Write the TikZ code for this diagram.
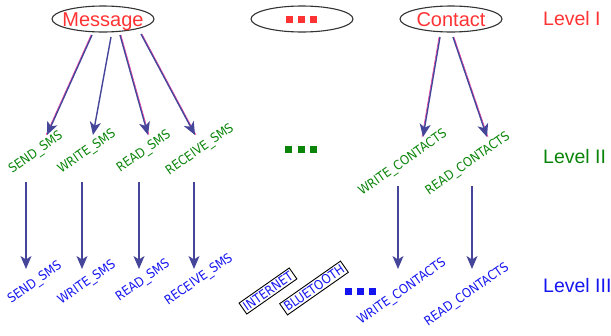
\documentclass[tikz,border=0pt]{standalone}
\usepackage{fontspec}
\setmainfont{Liberation Sans}
\newfontfamily\condfont{DejaVu Sans Condensed}
\usetikzlibrary{shapes.geometric,arrows.meta}
\definecolor{cred}{HTML}{FF3333}
\definecolor{cgreen}{HTML}{0A850A}
\definecolor{cblue}{HTML}{1515F0}
\definecolor{carrow}{HTML}{45459A}
\definecolor{cpink}{HTML}{FF3399}
\begin{document}
\begin{tikzpicture}[x=1pt,y=-1pt,
 oval/.style={draw=black!80, line width=1.1pt, ellipse, minimum width=102pt, minimum height=26pt,
   inner xsep=-5pt, inner ysep=0pt, text height=14.5pt, text depth=0pt,
   font=\fontsize{20}{20}\selectfont, text=cred},
 lvl/.style={font=\fontsize{19.5}{20}\selectfont, anchor=west, inner sep=0pt},
 perm/.style={font=\condfont\fontsize{12.8}{13}\selectfont, rotate=35, inner sep=0pt},
 boxed/.style={perm, draw=black, line width=0.9pt, inner sep=2pt},
 arr/.style={draw=carrow, line width=1.4pt, -{Stealth[length=13pt,width=11pt,inset=3.5pt]}},
 pinkl/.style={draw=cpink, line width=0.6pt},
 sq/.style={fill, minimum size=7pt, inner sep=0pt}
]
\useasboundingbox (0,0) rectangle (611,335);

% Level I
\node[oval] (msg) at (103,19) {Message};
\node[oval] (dots1) at (302,19) {};
\node[oval] (con) at (451,19) {Contact};
\node[sq, cred] (r1) at (289.5,19.5) {};
\node[sq, cred] (r2) at (301.5,19.5) {};
\node[sq, cred] (r3) at (313.5,19.5) {};
\node[lvl, text=cred] (l1) at (543,19) {Level I};

% Level II
\node[perm, text=cgreen] (s2) at (36,153) {SEND\_SMS};
\node[perm, text=cgreen] (w2) at (87,152) {WRITE\_SMS};
\node[perm, text=cgreen] (rd2) at (144,152) {READ\_SMS};
\node[perm, text=cgreen] (rc2) at (200,150) {RECEIVE\_SMS};
\node[perm, text=cgreen] (wc2) at (403,163) {WRITE\_CONTACTS};
\node[perm, text=cgreen] (rdc2) at (468,164) {READ\_CONTACTS};
\node[sq, cgreen] (g1) at (288.5,149) {};
\node[sq, cgreen] (g2) at (301.5,149) {};
\node[sq, cgreen] (g3) at (313.5,149) {};
\node[lvl, text=cgreen] (l2) at (543,157) {Level II};

% Level III
\node[perm, text=cblue] (s3) at (35,283) {SEND\_SMS};
\node[perm, text=cblue] (w3) at (87,283) {WRITE\_SMS};
\node[perm, text=cblue] (rd3) at (143,281) {READ\_SMS};
\node[perm, text=cblue] (rc3) at (199,280) {RECEIVE\_SMS};
\node[boxed, text=cblue] (inet) at (268,291) {INTERNET};
\node[boxed, text=cblue] (bt) at (314,288) {BLUETOOTH};
\node[perm, text=cblue] (wc3) at (402,292) {WRITE\_CONTACTS};
\node[perm, text=cblue] (rdc3) at (467,295) {READ\_CONTACTS};
\node[sq, cblue] (b1) at (348.5,291) {};
\node[sq, cblue] (b2) at (360.5,291) {};
\node[sq, cblue] (b3) at (372,291) {};
\node[lvl, text=cblue] (l3) at (543,286) {Level III};

% connector end points
\coordinate (a1s) at (92,35);  \coordinate (a1e) at (47,135);
\coordinate (a2s) at (111,37); \coordinate (a2e) at (93,135);
\coordinate (a3s) at (120,35); \coordinate (a3e) at (148,135);
\coordinate (a4s) at (141,34); \coordinate (a4e) at (195,135);
\coordinate (a5s) at (440,37); \coordinate (a5e) at (423,137);
\coordinate (a6s) at (453,37); \coordinate (a6e) at (487,137);

\coordinate (v1s) at (26,182);  \coordinate (v1e) at (26,269);
\coordinate (v2s) at (82,182);  \coordinate (v2e) at (82,269);
\coordinate (v3s) at (139,182); \coordinate (v3e) at (139,269);
\coordinate (v4s) at (194,182); \coordinate (v4e) at (194,269);
\coordinate (v5s) at (398,186); \coordinate (v5e) at (398,269);
\coordinate (v6s) at (472,186); \coordinate (v6e) at (472,269);

% pink companion lines
\draw[pinkl, transform canvas={xshift=-1pt}] (a1s) -- (a1e);
\draw[pinkl, transform canvas={xshift=1pt}] (a3s) -- (a3e);
\draw[pinkl, transform canvas={xshift=1pt}] (a4s) -- (a4e);
\draw[pinkl, transform canvas={xshift=-1pt}] (a5s) -- (a5e);
\draw[pinkl, transform canvas={xshift=1pt}] (a6s) -- (a6e);

% arrows Level I -> II
\draw[arr] (a1s) -- (a1e);
\draw[arr] (a2s) -- (a2e);
\draw[arr] (a3s) -- (a3e);
\draw[arr] (a4s) -- (a4e);
\draw[arr] (a5s) -- (a5e);
\draw[arr] (a6s) -- (a6e);

% arrows Level II -> III
\draw[arr] (v1s) -- (v1e);
\draw[arr] (v2s) -- (v2e);
\draw[arr] (v3s) -- (v3e);
\draw[arr] (v4s) -- (v4e);
\draw[arr] (v5s) -- (v5e);
\draw[arr] (v6s) -- (v6e);
\end{tikzpicture}
\end{document}
